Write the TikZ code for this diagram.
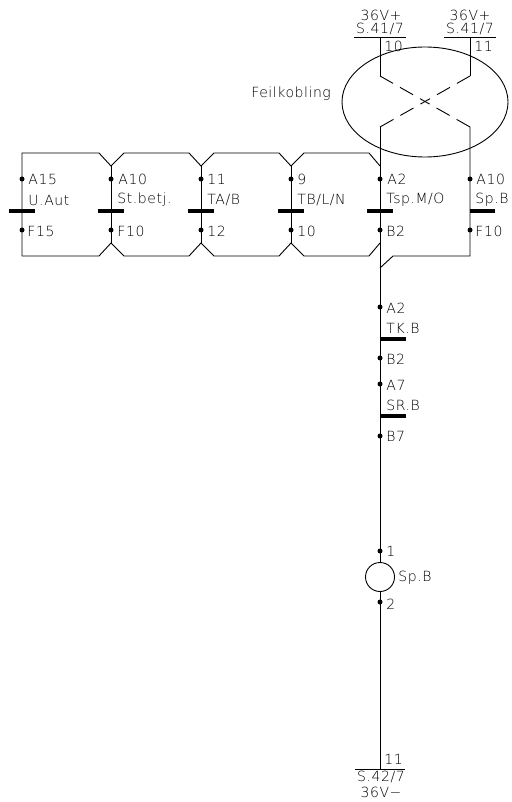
\documentclass[tikz,border=0pt]{standalone}
\usepackage{fontspec}
\setmainfont[LetterSpace=4]{DejaVu Sans ExtraLight}
\usepackage{tikz}
\usetikzlibrary{shapes.geometric}

\tikzset{
    wire/.style={line width=0.9pt},
    lbl/.style={anchor=west, inner sep=0pt, font=\fontsize{14}{15}\selectfont},
    mid/.style={anchor=center, inner sep=0pt, font=\fontsize{14}{15}\selectfont},
    pin/.style={circle, fill, inner sep=0pt, minimum size=5pt},
    bar/.style={rectangle, fill, inner sep=0pt, minimum width=25.5pt, minimum height=3.2pt},
    rail/.style={rectangle, fill, inner sep=0pt, minimum height=1pt},
    cross/.style={dash pattern=on 15pt off 8pt on 15pt off 8pt on 11pt off 8pt on 15pt off 8pt on 15pt off 0pt},
}

\begin{document}
\begin{tikzpicture}[x=1pt, y=-1pt, wire]
    \useasboundingbox (0,0) rectangle (511,802);
    % supply rails
    \node[rail, minimum width=52pt] (railA) at (380,38) {};
    \node[rail, minimum width=52pt] (railB) at (470,38) {};
    \node[rail, minimum width=50pt] (railC) at (380,769) {};
    \node[mid] (voltA) at (381,15) {36V+};
    \node[mid] (voltB) at (470,15) {36V+};
    \node[mid] (sheetA) at (380,29) {S.41/7};
    \node[mid] (sheetB) at (470,29) {S.41/7};
    \node[lbl] (termA) at (384,46) {10};
    \node[lbl] (termB) at (474,46) {11};
    \node[mid] (sheetC) at (381,777) {S.42/7};
    \node[mid] (voltC) at (381,792) {36V−};
    \node[lbl] (termC) at (384,759) {11};

    % fault
    \node[draw, ellipse, inner sep=0pt, minimum width=166pt, minimum height=110pt] (fault) at (425,102) {};
    \node[lbl] (faultlbl) at (251,94) {Feilkobling};
    \coordinate (xA) at (380,76);
    \coordinate (xB) at (470,76);
    \coordinate (xC) at (380,127);
    \coordinate (xD) at (470,127);
    \draw (railA.center) -- (xA);
    \draw (railB.center) -- (xB);
    \draw[cross] (xA) -- (xD);
    \draw[cross] (xB) -- (xC);

    % relay row
    \coordinate (c0) at (22,153);
    \coordinate (d0) at (22,256);
    \coordinate (c1) at (111,166);
    \coordinate (d1) at (111,243);
    \coordinate (c2) at (201,166);
    \coordinate (d2) at (201,243);
    \coordinate (c3) at (291,166);
    \coordinate (d3) at (291,243);
    \coordinate (c4) at (380,166);
    \coordinate (d4) at (380,243);
    \coordinate (d5) at (470,256);
    \coordinate (d6) at (380,268);
    \draw (d0) -- (c0) -- ++(77,0) -- (c1) -- ++(13,-13) -- ++(65,0) -- (c2) -- ++(13,-13) -- ++(65,0) -- (c3) -- ++(13,-13) -- ++(65,0) -- (c4);
    \draw (d0) -- ++(77,0) -- (d1) -- ++(13,13) -- ++(65,0) -- (d2) -- ++(13,13) -- ++(65,0) -- (d3) -- ++(13,13) -- ++(65,0) -- (d4);
    \draw (d6) -- ++(13,-12) -- (d5) -- (xD);
    \draw (c1) -- (d1);
    \draw (c2) -- (d2);
    \draw (c3) -- (d3);

    \node[pin] (a0) at (22,179) {};
    \node[pin] (b0) at (22,230) {};
    \node[bar] (s0) at (22,211) {};
    \node[lbl] at (28,179) (a0lbl) {A15};
    \node[lbl] at (28,200) (s0lbl) {U.Aut};
    \node[lbl] at (27,231) (b0lbl) {F15};

    \node[pin] (a1) at (111,179) {};
    \node[pin] (b1) at (111,230) {};
    \node[bar] (s1) at (111,211) {};
    \node[lbl] at (118,179) (a1lbl) {A10};
    \node[lbl] at (117,200) (s1lbl) {St.betj.};
    \node[lbl] at (117,231) (b1lbl) {F10};

    \node[pin] (a2) at (201,179) {};
    \node[pin] (b2) at (201,230) {};
    \node[bar] (s2) at (201,211) {};
    \node[lbl] at (207,179) (a2lbl) {11};
    \node[lbl] at (207,200) (s2lbl) {TA/B};
    \node[lbl] at (207,231) (b2lbl) {12};

    \node[pin] (a3) at (291,179) {};
    \node[pin] (b3) at (291,230) {};
    \node[bar] (s3) at (291,211) {};
    \node[lbl] at (297,179) (a3lbl) {9};
    \node[lbl] at (297,200) (s3lbl) {TB/L/N};
    \node[lbl] at (297,231) (b3lbl) {10};

    \node[pin] (a4) at (380,179) {};
    \node[pin] (b4) at (380,230) {};
    \node[bar] (s4) at (380,211) {};
    \node[lbl] at (387,179) (a4lbl) {A2};
    \node[lbl] at (386,200) (s4lbl) {Tsp.M/O};
    \node[lbl] at (386,231) (b4lbl) {B2};

    \node[pin] (a5) at (470,179) {};
    \node[pin] (b5) at (470,230) {};
    \node[bar] (s5) at (482.5,211) {};
    \node[lbl] at (476,179) (a5lbl) {A10};
    \node[lbl] at (475,200) (s5lbl) {Sp.B};
    \node[lbl] at (475,231) (b5lbl) {F10};

    % series contacts and coil
    \node[pin] (a6) at (380,307) {};
    \node[bar] (s6) at (393,339) {};
    \node[pin] (b6) at (380,358) {};
    \node[pin] (a7) at (380,384) {};
    \node[bar] (s7) at (393,416) {};
    \node[pin] (b7) at (380,436) {};
    \node[lbl] at (386,308) (a6lbl) {A2};
    \node[lbl] at (386,328) (s6lbl) {TK.B};
    \node[lbl] at (386,359) (b6lbl) {B2};
    \node[lbl] at (386,385) (a7lbl) {A7};
    \node[lbl] at (386,405) (s7lbl) {SR.B};
    \node[lbl] at (386,436) (b7lbl) {B7};

    \node[pin] (p1) at (380,551) {};
    \node[draw, circle, inner sep=0pt, minimum size=29pt] (coil) at (380,577) {};
    \node[pin] (p2) at (380,602) {};
    \node[lbl] at (386,551) (p1lbl) {1};
    \node[lbl] at (398,578) (coillbl) {Sp.B};
    \node[lbl] at (386,604) (p2lbl) {2};

    \draw (xC) -- (coil.north);
    \draw (coil.south) -- (railC.center);
\end{tikzpicture}
\end{document}
